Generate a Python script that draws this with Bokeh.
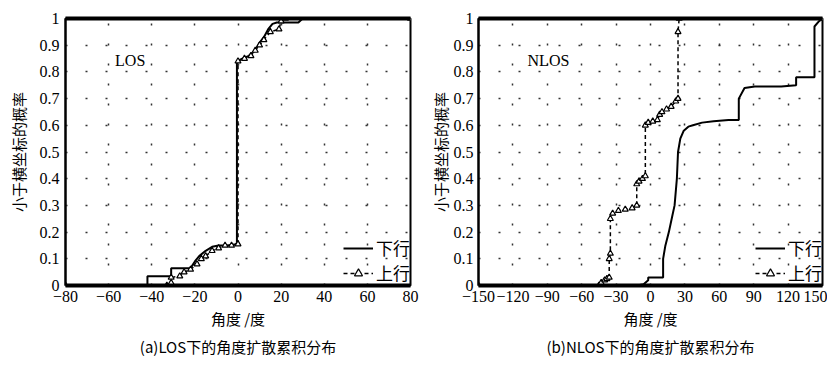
from bokeh.plotting import figure
from bokeh.layouts import row, Spacer
from bokeh.models import (Range1d, FixedTicker, LinearAxis, Title, Label, Legend)
from bokeh.embed import file_html
from bokeh.resources import INLINE

# ---------------- data ----------------
los_x_ticks = [-80, -60, -40, -20, 0, 20, 40, 60, 80]
nlos_x_ticks = [-150, -120, -90, -60, -30, 0, 30, 60, 90, 120, 150]
y_ticks = [0, 0.1, 0.2, 0.3, 0.4, 0.5, 0.6, 0.7, 0.8, 0.9, 1]
y_tick_labels = ["0", "0.1", "0.2", "0.3", "0.4", "0.5", "0.6", "0.7", "0.8", "0.9", "1"]

los_down_x = [-80, -42, -42, -31, -31, -22, -20, -18, -15, -12, -9, -5, -1, -0.5, -0.5,
              2, 5, 8, 10, 12, 14, 16, 18, 28, 30, 80]
los_down_y = [0, 0, 0.035, 0.035, 0.065, 0.065, 0.09, 0.11, 0.13, 0.145, 0.15, 0.15, 0.155, 0.16, 0.84,
              0.85, 0.86, 0.88, 0.91, 0.93, 0.96, 0.98, 0.985, 0.985, 1, 1]

los_up_x = [-80, -33, -31, -31, -27, -25, -22, -19, -17, -15, -12, -9, -6, -3, 0, 0,
            3, 6, 8, 10, 12, 15, 19, 20, 22, 80]
los_up_y = [0, 0, 0.01, 0.03, 0.035, 0.05, 0.06, 0.08, 0.1, 0.11, 0.13, 0.14, 0.15, 0.15, 0.155, 0.84,
            0.85, 0.86, 0.88, 0.9, 0.92, 0.95, 0.96, 0.99, 1, 1]

nlos_down_x = [-150, -12, -6, -2, -2, 11, 11, 13, 16, 19, 21, 23, 24, 26, 29, 33, 37, 45, 55, 68,
               77, 77, 82, 91, 114, 127, 127, 143, 143, 147, 150]
nlos_down_y = [0, 0, 0.005, 0.02, 0.03, 0.03, 0.1, 0.15, 0.2, 0.26, 0.3, 0.4, 0.5, 0.55, 0.58, 0.595,
               0.6, 0.61, 0.615, 0.62, 0.62, 0.70, 0.74, 0.745, 0.745, 0.75, 0.78, 0.78, 0.97, 0.99, 1]

nlos_up_x = [-150, -45, -43, -40, -38, -36, -36, -35, -35, -33, -28, -22, -16, -12, -12, -10, -7,
             -4.5, -4.5, -2, 2, 6, 8, 10, 14, 18, 22, 24, 24, 25, 150]
nlos_up_y = [0, 0, 0.01, 0.02, 0.025, 0.03, 0.1, 0.12, 0.25, 0.27, 0.28, 0.285, 0.29, 0.3, 0.38, 0.39,
             0.4, 0.41, 0.6, 0.61, 0.615, 0.62, 0.64, 0.65, 0.66, 0.67, 0.69, 0.7, 0.95, 1, 1]

SERIF = "Liberation Serif"
CJK = "Noto Sans CJK SC"


def make_panel(xr, xticks, dx, dy, ux, uy, tag, tag_x, caption, fw, br,
               ytick_standoff, ylab_standoff):
    p = figure(frame_width=fw, frame_height=267, output_backend="svg", toolbar_location=None,
               x_range=Range1d(*xr), y_range=Range1d(0, 1),
               min_border_left=0, min_border_right=br, min_border_top=18, min_border_bottom=10)
    p.outline_line_color = "black"
    p.outline_line_width = 2
    p.background_fill_color = "white"
    p.border_fill_color = "white"

    # axes
    p.xaxis.ticker = FixedTicker(ticks=xticks)
    p.yaxis.ticker = FixedTicker(ticks=y_ticks)
    p.yaxis.major_label_overrides = {t: l for t, l in zip(y_ticks, y_tick_labels)}
    for ax in (p.xaxis[0], p.yaxis[0]):
        ax.major_label_text_font = SERIF
        ax.major_label_text_font_size = "16px"
        ax.major_label_text_color = "black"
        ax.major_tick_line_color = None
        ax.minor_tick_line_color = None
        ax.major_tick_out = 0
        ax.major_tick_in = 0
        ax.minor_tick_out = 0
        ax.minor_tick_in = 0
        ax.axis_line_color = "black"
        ax.axis_label_text_font = CJK
        ax.axis_label_text_font_size = "15px"
        ax.axis_label_text_font_style = "normal"
        ax.axis_label_text_color = "black"
    p.xaxis.axis_line_width = 4
    p.yaxis.axis_line_width = 2
    p.xaxis.major_label_standoff = 5
    p.yaxis.major_label_standoff = ytick_standoff
    p.xaxis.axis_label = "角度 /度"
    p.xaxis.axis_label_standoff = 3
    p.yaxis.axis_label = "小于横坐标的概率"
    p.yaxis.axis_label_standoff = ylab_standoff

    top = LinearAxis(ticker=FixedTicker(ticks=[]), axis_line_width=4, axis_line_color="black",
                     major_tick_line_color=None, minor_tick_line_color=None,
                     major_tick_out=0, major_tick_in=0, minor_tick_out=0, minor_tick_in=0,
                     major_label_text_font_size="0px")
    p.add_layout(top, "above")

    # dotted grid
    p.xgrid.ticker = FixedTicker(ticks=xticks)
    p.ygrid.ticker = FixedTicker(ticks=y_ticks)
    for g in (p.xgrid[0], p.ygrid[0]):
        g.grid_line_color = "#333333"
        g.grid_line_dash = "2 18"
        g.grid_line_width = 1.5

    r_down = p.line(dx, dy, line_color="black", line_width=2)
    r_up_line = p.line(ux, uy, line_color="black", line_width=1.5, line_dash="4 3")
    r_up_mark = p.scatter(ux, uy, marker="triangle", size=6, line_color="black",
                          fill_color="white", line_width=1.2)

    legend = Legend(items=[("下行", [r_down]), ("上行", [r_up_line, r_up_mark])],
                    location="bottom_right")
    legend.label_text_font = CJK
    legend.label_text_font_size = "17px"
    legend.label_text_color = "black"
    legend.background_fill_alpha = 0
    legend.border_line_color = None
    legend.glyph_width = 30
    legend.spacing = 0
    legend.padding = 0
    legend.margin = 0
    legend.label_standoff = 3
    p.add_layout(legend)

    p.add_layout(Label(x=tag_x, y=0.843, text=tag, text_font=SERIF, text_font_size="16px",
                       text_align="center", text_baseline="middle", text_color="black"))

    cap = Title(text=caption, align="center", text_font=CJK, text_font_size="15px",
                text_font_style="normal", text_color="black", standoff=4)
    p.add_layout(cap, "below")
    return p


p1 = make_panel((-80, 80), los_x_ticks, los_down_x, los_down_y, los_up_x, los_up_y,
                "LOS", -50, "(a)LOS下的角度扩散累积分布", 345, 9, 6, 8)
p2 = make_panel((-150, 150), nlos_x_ticks, nlos_down_x, nlos_down_y, nlos_up_x, nlos_up_y,
                "NLOS", -89, "(b)NLOS下的角度扩散累积分布", 344, 5, 5, 0)

layout = row(Spacer(width=4), p1, Spacer(width=7), p2, spacing=0)
open("out.html", "w").write(file_html(layout, INLINE))
